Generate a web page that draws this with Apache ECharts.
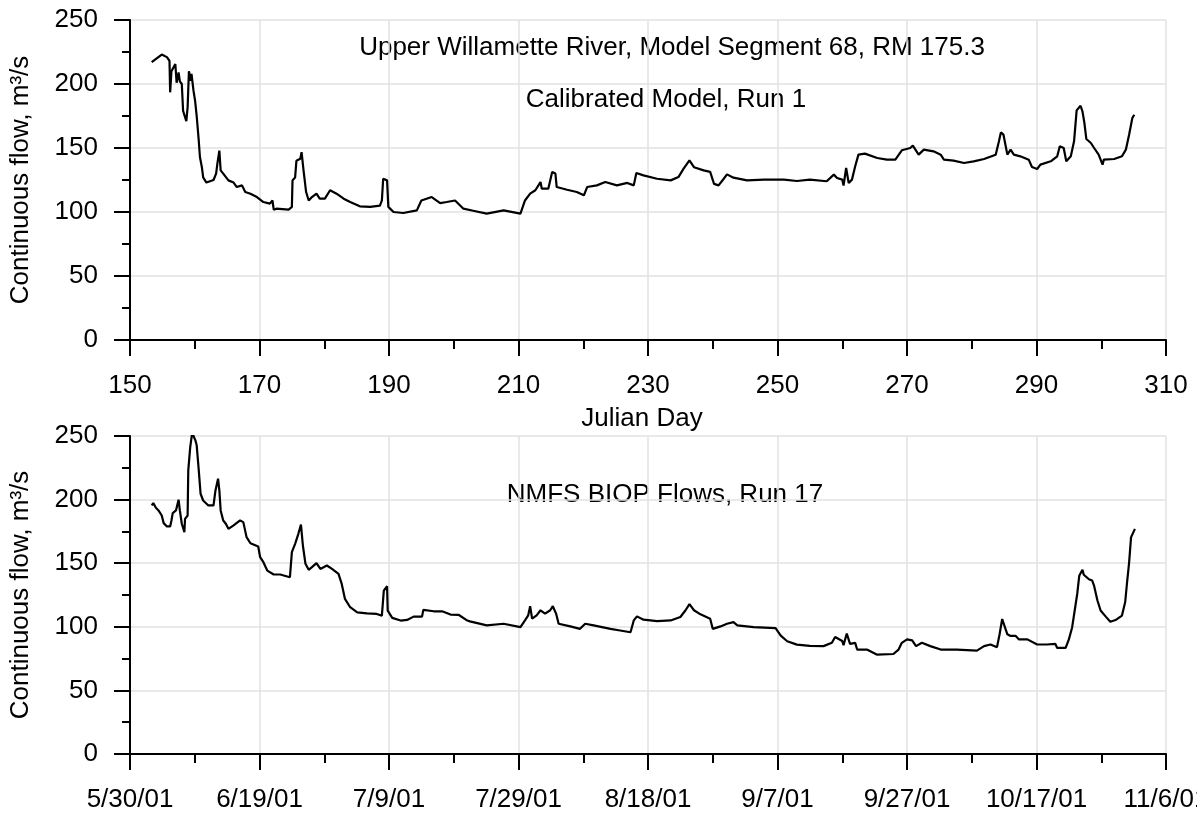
<!DOCTYPE html>
<html>
<head>
<meta charset="utf-8">
<script src="https://cdn.jsdelivr.net/npm/echarts@6/dist/echarts.min.js"></script>
<style>
  html, body { margin: 0; padding: 0; background: #fff; }
  #chart { width: 1197px; height: 817px; }
</style>
</head>
<body>
<div id="chart"></div>
<script>
// Julian day and continuous flow (m3/s) for the calibrated model run
const calDays = [153.35,153.6,154.9,155.7,156.1,156.2,156.4,157.0,157.2,157.5,157.7,158.0,158.2,158.7,158.9,159.1,159.4,159.5,159.8,160.05,160.3,160.6,160.8,161.1,161.3,161.8,162.9,163.3,163.5,163.8,164.0,164.4,164.7,165.2,166.0,166.5,167.3,167.8,168.6,169.6,170.6,171.6,172.0,172.2,172.6,174.5,175.0,175.1,175.5,175.7,176.3,176.5,176.8,177.2,177.6,178.1,178.8,179.3,180.1,180.9,181.9,183.0,184.0,185.5,187.1,188.6,188.9,189.1,189.7,189.9,190.7,192.2,194.3,195.0,196.6,197.9,198.9,200.2,201.5,203.0,205.1,207.7,210.3,211.0,211.8,212.6,213.4,213.6,214.6,215.2,215.7,215.9,217.5,219.0,220.1,220.6,222.1,223.4,225.2,226.8,227.8,228.2,229.3,231.4,233.5,234.7,235.5,236.4,237.1,238.6,239.6,240.2,240.9,241.7,242.2,243.2,245.3,247.9,251.0,253.0,255.0,257.6,258.7,259.2,260.0,260.2,260.6,261.0,261.5,262.0,262.5,263.5,265.4,266.9,268.2,269.2,270.5,270.9,271.8,272.6,274.1,275.2,275.7,277.2,278.8,280.3,281.9,283.7,284.2,284.5,284.9,285.5,286.0,286.5,287.5,288.8,289.3,290.1,290.6,292.2,293.2,293.6,294.2,294.6,295.3,295.8,296.2,296.8,297.1,297.4,297.7,298.4,298.9,299.6,300.2,300.4,302.0,303.2,303.8,304.3,304.8,305.1];
const calFlow = [217,218.5,223,221,218,193.5,210,215.6,201,209,202,200,179,171,182,210,202.6,208,195,187,175,157,143,135,127,123,125,130,138,148,132.5,130,131,124.7,123,119.5,120.8,115.6,114.3,111.7,107.8,106.5,109,101.8,102.6,101.8,104,124.7,127,140,141.6,146.8,132.5,115.6,109,111.7,114.3,110.4,110.4,117,114.3,110.4,107.8,104.4,104,105,109,126,124.7,104,100,99.2,101.3,109,111.7,107,107.8,109,102.6,101,98.7,101.3,98.7,109,114.3,117,123.4,118.2,118.2,131.3,130,119.5,117.4,115.6,113,119.5,120.8,123.4,120.8,122.7,120.8,130.5,128.6,126,124.7,127.3,133.9,140.4,135,132.5,131.3,122,120.8,126,129.4,126.8,124.7,125.3,125.3,124.2,125.3,124,129.2,126.6,125.3,120.6,134.4,122.7,125.3,135.7,144.8,145.6,142.2,140.9,140.9,148.2,150,151.8,144.8,148.7,147.4,144.8,140.9,140.1,138.3,139.6,141.4,144.8,155.2,162.2,160.4,144.8,148.7,144.8,143.5,140.9,135.2,133.6,137,139.6,143.5,151.3,150,139.6,143.5,155.2,179.4,183,178.6,169.5,157,153.9,150,144.8,137,140.9,141.4,143.5,148.7,160.4,173.4,176];

// Julian day and continuous flow (m3/s) for the NMFS BIOP flow run
const biopDays = [153.35,153.6,154.0,154.4,154.9,155.2,155.7,156.2,156.4,156.6,157.1,157.5,157.7,158.0,158.4,158.5,158.9,159.0,159.3,159.6,160.1,160.3,160.6,160.9,161.3,162.1,162.9,163.2,163.6,163.8,164.0,164.4,164.8,165.2,166.0,167.0,167.5,168.0,168.6,169.8,170.1,170.6,171.2,172.2,173.2,174.7,175.0,175.5,176.0,176.4,176.7,177.1,177.6,178.1,178.8,179.4,180.4,181.2,182.2,182.7,183.2,184.0,185.1,186.6,188.1,188.9,189.2,189.7,189.8,190.5,191.8,192.8,193.8,195.1,195.3,196.9,198.2,199.5,200.8,202.1,202.5,205.1,207.7,210.3,211.0,211.5,211.8,212.1,212.8,213.4,214.1,214.9,215.3,215.8,216.2,218.0,219.5,220.3,221.6,224.2,225.7,227.3,227.8,228.3,229.3,231.4,233.5,235.0,235.8,236.4,237.1,238.1,239.6,240.0,241.2,242.2,243.2,243.8,246.3,249.7,250.5,251.5,253.0,255.0,257.1,258.4,258.9,260.0,260.2,260.7,261.2,262.0,262.3,263.8,265.4,267.9,268.7,269.2,270.0,270.8,271.4,272.3,273.6,275.2,277.7,280.8,281.9,282.9,283.9,284.3,284.7,285.0,285.5,286.0,286.8,287.3,288.6,290.1,291.6,292.9,293.2,294.5,295.0,295.5,295.9,296.3,296.6,297.1,297.3,298.1,298.6,298.9,299.4,299.9,300.7,301.4,302.2,303.2,303.7,304.0,304.3,304.6,305.2];
const biopFlow = [195.4,197.2,193.6,191.5,187.5,181.5,178.9,178.9,183.6,189.4,191.5,199.9,191.5,181,174.4,184.9,187.5,223,241.3,252.4,246.6,242.7,224.3,204.6,199.3,195.4,195.4,207.2,216.4,207.2,191.5,183.6,181,177,179.7,183.6,182.3,170.5,165.7,163.1,154.7,150.8,144.2,141.1,141.1,139,158.7,165.2,173.1,180.4,163.9,149.5,144.8,146.9,150,145.5,148.2,145.5,141.6,133.7,121.9,115.4,111.4,110.6,110.1,108.8,128.5,131.9,112.7,107,104.9,105.4,108,108,113.3,112.2,112.2,109.6,109.3,104.9,104.3,101.1,102.4,99.7,105,109,116.2,106.4,109,113,110.4,113,116.2,110.4,102.4,100.3,98.4,102.4,101.1,98.4,97.1,95.7,105,108.2,105.6,104.5,105,107.7,113,117.8,113,109.8,106.4,98.4,100.3,102.4,103.7,101.1,99.7,98.9,93.1,88.6,86,85,84.8,87.4,92,88.8,85.6,94.7,86.6,87.4,82.1,82.1,78.1,78.6,82.1,87.4,90.1,89.3,84.8,87.4,84.8,82.1,82.1,81.3,84.8,86.1,84,94.1,106.1,104.8,94.1,92.8,92.8,90.1,90.1,86.1,86.1,86.6,83.4,83.4,90.1,99.5,112.8,126.2,140.1,144.9,140.9,137.4,136.4,132.1,120.9,112.8,108,104,105.3,108.8,119.5,135.6,150.3,170.3,177];

// Axis settings
const dayMin = 150, dayMax = 310, dayStep = 20;
const flowMin = 0, flowMax = 250, flowStep = 50;
const flowAxisName = 'Continuous flow, m\u00B3/s';
const topAxisName = 'Julian Day';
const topLabel1 = 'Upper Willamette River, Model Segment 68, RM 175.3';
const topLabel2 = 'Calibrated Model, Run 1';
const bottomLabel = 'NMFS BIOP Flows, Run 17';
const yearStart = 2001;

const FONT = '"Liberation Sans", Arial, sans-serif';

function pairs(xs, ys) { return xs.map((x, i) => [x, ys[i]]); }

// Julian day -> m/d/yy
function dayToDate(d) {
  const dt = new Date(Date.UTC(yearStart, 0, 1) + (d - 1) * 86400000);
  return (dt.getUTCMonth() + 1) + '/' + dt.getUTCDate() + '/' + String(dt.getUTCFullYear()).slice(2);
}

function xAxisCfg(gridIndex, extra) {
  return Object.assign({
    type: 'value', gridIndex: gridIndex,
    min: dayMin, max: dayMax, interval: dayStep,
    axisLine: { show: true, onZero: false, lineStyle: { color: '#000', width: 2 } },
    axisTick: { show: true, inside: false, length: 16, lineStyle: { color: '#000', width: 2 } },
    minorTick: { show: true, splitNumber: 2, length: 9, lineStyle: { color: '#000', width: 2 } },
    splitLine: { show: true, lineStyle: { color: '#e2e2e2', width: 1.5 } },
    axisLabel: { color: '#000', fontSize: 26, fontFamily: FONT, margin: 33, hideOverlap: false }
  }, extra || {});
}

function yAxisCfg(gridIndex) {
  return {
    type: 'value', gridIndex: gridIndex,
    min: flowMin, max: flowMax, interval: flowStep,
    name: flowAxisName, nameLocation: 'middle', nameGap: 96,
    nameTextStyle: { color: '#000', fontSize: 26, fontFamily: FONT },
    axisLine: { show: true, lineStyle: { color: '#000', width: 2 } },
    axisTick: { show: true, inside: false, length: 16, lineStyle: { color: '#000', width: 2 } },
    minorTick: { show: true, splitNumber: 2, length: 8, lineStyle: { color: '#000', width: 2 } },
    splitLine: { show: true, lineStyle: { color: '#e2e2e2', width: 1.5 } },
    axisLabel: { color: '#000', fontSize: 26, fontFamily: FONT, margin: 32 }
  };
}

function lineSeries(idx, data) {
  return {
    type: 'line', xAxisIndex: idx, yAxisIndex: idx, data: data,
    showSymbol: false, symbol: 'none',
    lineStyle: { color: '#000', width: 2.2 },
    z: 5
  };
}

const chart = echarts.init(document.getElementById('chart'), null, { renderer: 'canvas' });
chart.setOption({
  animation: false,
  backgroundColor: '#fff',
  grid: [
    { left: 130, right: 31, top: 20, height: 320, containLabel: false, outerBoundsMode: 'none' },
    { left: 130, right: 31, top: 436, height: 318, containLabel: false, outerBoundsMode: 'none' }
  ],
  xAxis: [
    xAxisCfg(0, {
      name: topAxisName, nameLocation: 'middle', nameGap: 66,
      nameTextStyle: { color: '#000', fontSize: 26, fontFamily: FONT, padding: [0, 12, 0, 0] }
    }),
    xAxisCfg(1, { axisLabel: { color: '#000', fontSize: 26, fontFamily: FONT, margin: 33, hideOverlap: false, formatter: dayToDate } })
  ],
  yAxis: [yAxisCfg(0), yAxisCfg(1)],
  series: [
    lineSeries(0, pairs(calDays, calFlow)),
    lineSeries(1, pairs(biopDays, biopFlow))
  ],
  graphic: [
    { type: 'text', x: 672, y: 48, style: { text: topLabel1, fill: '#000', font: '26px ' + FONT, textAlign: 'center', textVerticalAlign: 'middle' } },
    { type: 'text', x: 666, y: 100, style: { text: topLabel2, fill: '#000', font: '26px ' + FONT, textAlign: 'center', textVerticalAlign: 'middle' } },
    { type: 'text', x: 665, y: 495, style: { text: bottomLabel, fill: '#000', font: '26px ' + FONT, textAlign: 'center', textVerticalAlign: 'middle' } }
  ]
});
</script>
</body>
</html>
